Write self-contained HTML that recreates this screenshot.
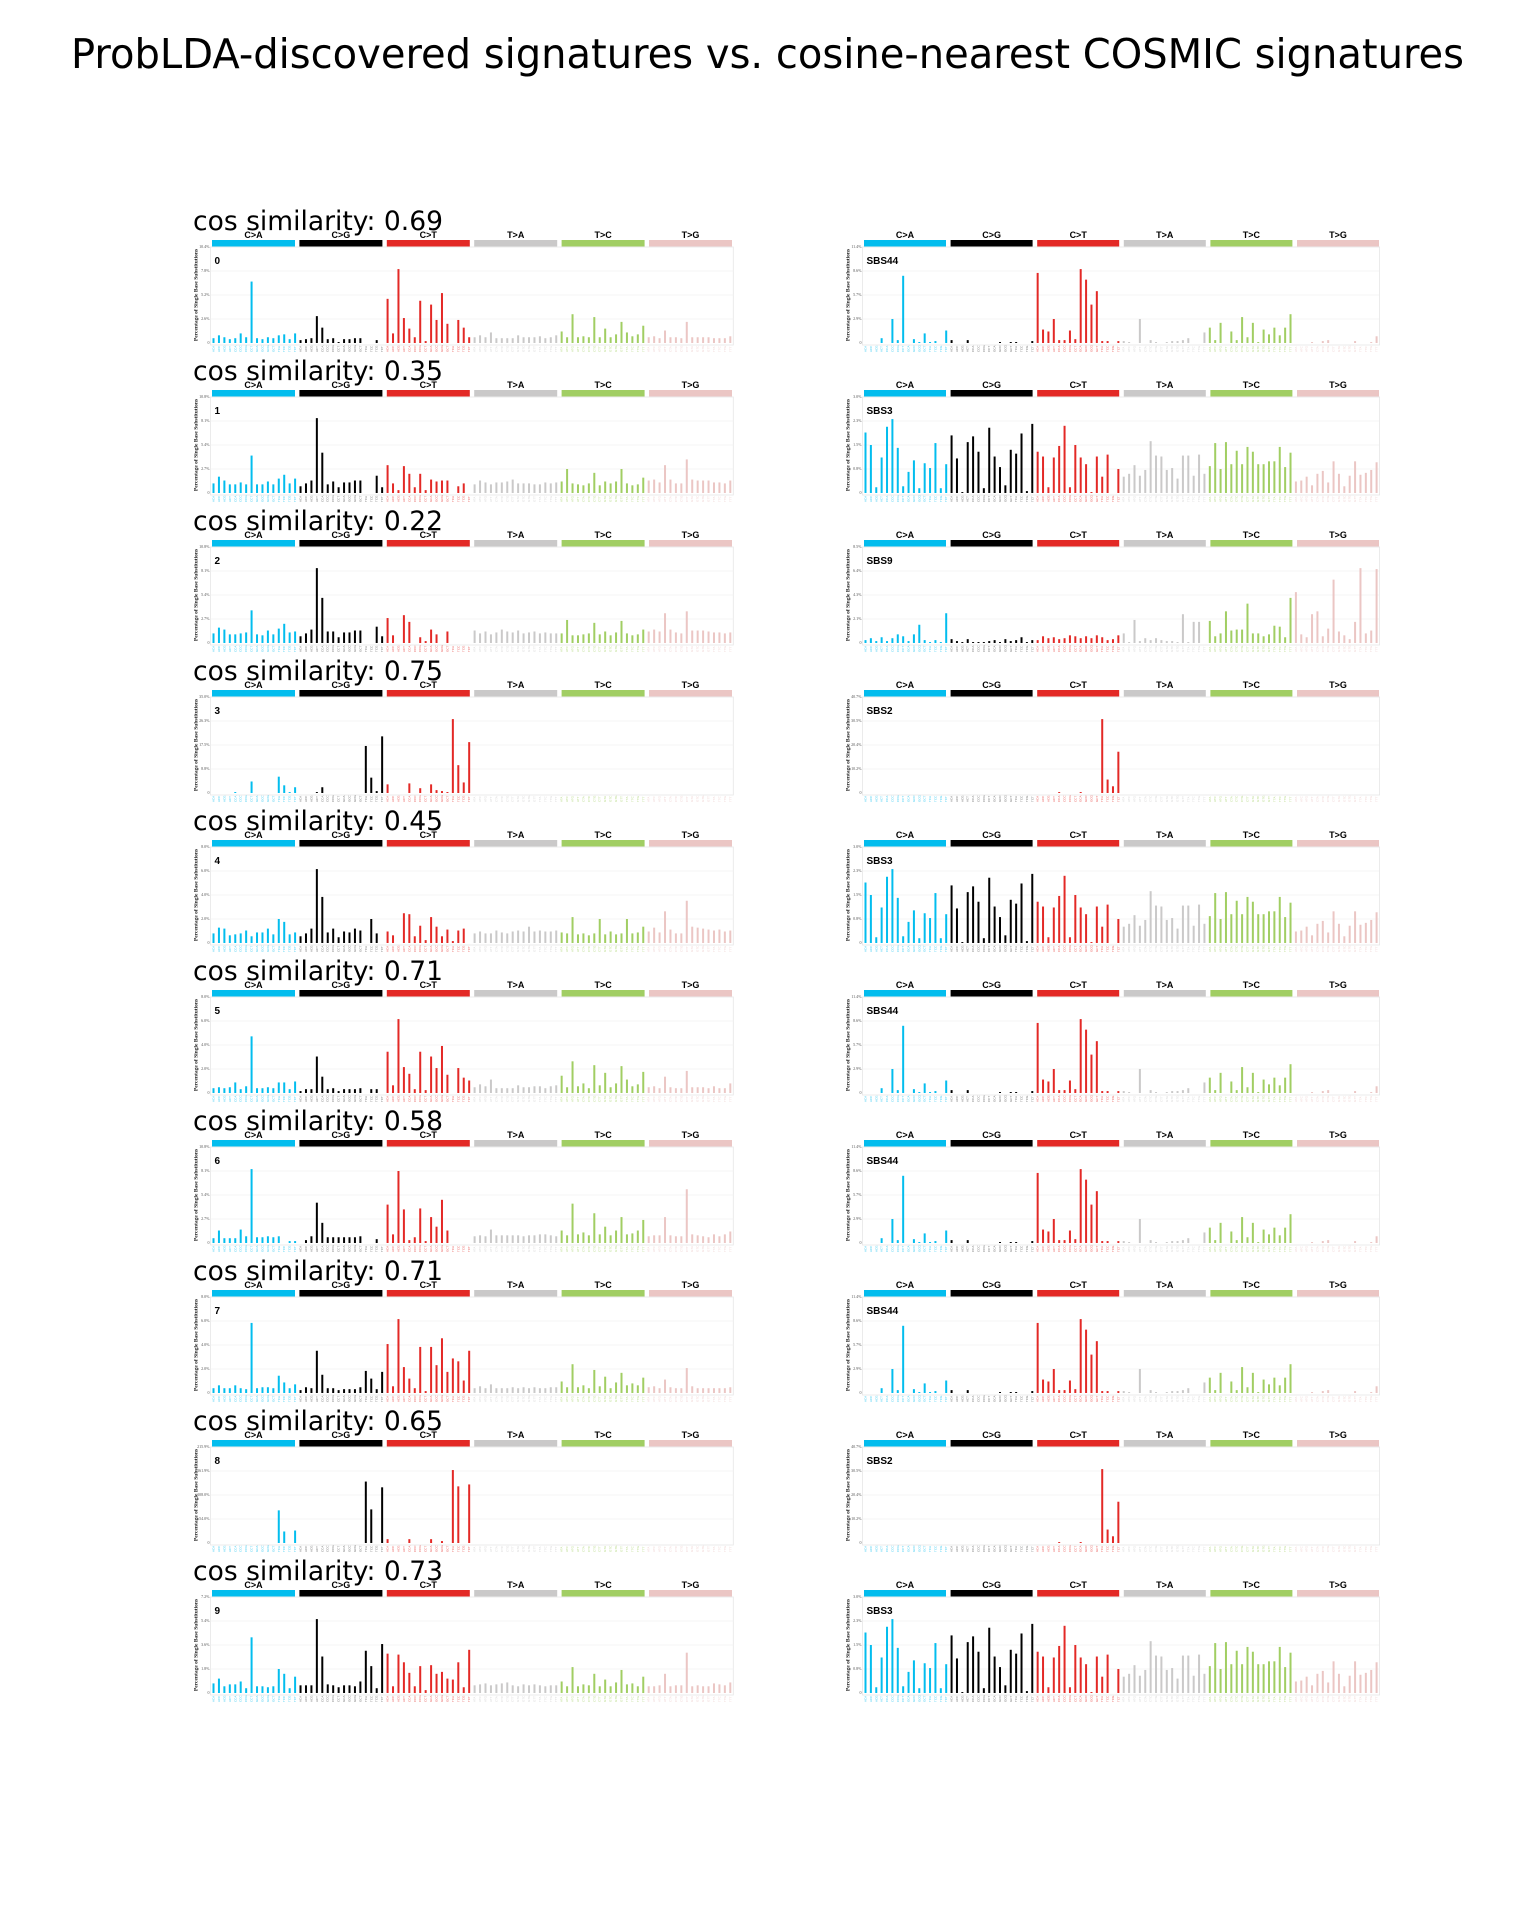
<!DOCTYPE html>
<html><head><meta charset="utf-8"><title>ProbLDA signatures</title>
<style>
html,body{margin:0;padding:0;background:#fff;}
svg{display:block;}
</style></head>
<body>
<svg id="chart" width="1536" height="1920" viewBox="0 0 1536 1920" xmlns="http://www.w3.org/2000/svg">
<text x="71" y="68" font-family="DejaVu Sans, sans-serif" font-size="41" textLength="1393" lengthAdjust="spacingAndGlyphs" fill="#000">ProbLDA-discovered signatures vs. cosine-nearest COSMIC signatures</text>
</svg>
<script>
// ---- data (values are percent of each panel's axis maximum) ----
const categories = ['C>A','C>G','C>T','T>A','T>C','T>G'];
const catColors = ['#03bdee','#000000','#e32926','#cac9c9','#a1ce63','#ebc6c4'];
const bases = ['A','C','G','T'];
const cosSims = ['0.69','0.35','0.22','0.75','0.45','0.71','0.58','0.71','0.65','0.73'];
const leftIds = ['0','1','2','3','4','5','6','7','8','9'];
const rightIds = ['SBS44','SBS3','SBS9','SBS2','SBS3','SBS44','SBS44','SBS44','SBS2','SBS3'];
const leftMax = [10.4, 10.8, 10.8, 35.0, 8.0, 8.0, 10.8, 8.0, 215.9, 7.2];
const sigMaxNames = ['SBS44','SBS3','SBS9','SBS2'];
const sigMaxValues = [11.4, 3.0, 8.5, 40.7];

const p0 = [5,8,6,4,5,10,6,64,5,4,6,5,8,9,4,10, 3,4,5,28,16,4,5,1,4,4,5,5,0,0,3,0, 46,10,77,26,15,6,44,2,40,24,52,20,0,24,16,6, 6,8,6,11,5,5,5,5,8,6,6,6,7,5,6,8, 12,6,30,6,7,6,27,6,15,6,9,22,11,7,9,18, 6,7,5,13,6,6,5,22,6,6,6,6,5,5,5,7];
const p1 = [10,17,13,9,9,11,9,39,9,9,12,9,15,19,10,15, 7,10,13,78,42,9,12,6,11,11,13,13,0,0,18,6, 29,10,3,28,20,6,20,3,14,12,13,13,0,7,10,0, 9,13,11,9,11,11,12,14,10,10,10,9,9,11,10,11, 12,25,10,9,8,10,21,8,12,10,12,25,10,8,9,16, 13,14,11,29,14,10,10,35,14,13,13,13,11,11,10,13];
const p2 = [10,16,14,9,9,10,11,34,9,8,13,9,15,20,11,12, 7,10,14,78,47,12,12,6,11,11,13,13,0,0,17,7, 26,8,0,29,22,0,6,2,14,9,0,12,0,0,0,0, 13,10,12,9,11,14,12,11,13,10,11,12,10,11,10,10, 10,24,8,8,9,10,21,9,12,8,11,23,10,8,9,14, 12,14,12,31,14,11,10,33,13,13,13,12,11,11,10,11];
const p3 = [0,0,0,0,1,0,0,12,0,0,0,0,17,8,1,6, 0,0,0,1,6,0,0,0,0,0,0,0,49,16,2,59, 9,0,0,0,10,0,5,0,9,3,2,1,77,29,11,53, 0,0,0,0,0,0,0,0,0,0,0,0,0,0,0,0, 0,0,0,0,0,0,0,0,0,0,0,0,0,0,0,0, 0,0,0,0,0,0,0,0,0,0,0,0,0,0,0,0];
const p4 = [10,16,15,8,9,10,13,7,11,11,15,9,25,22,9,11, 7,10,15,77,48,11,15,6,12,11,15,13,0,25,10,0, 12,8,0,31,30,7,18,3,27,17,7,14,2,13,15,0, 10,12,10,10,13,11,10,12,13,12,17,12,13,12,12,13, 11,10,27,9,10,8,10,25,9,12,9,10,25,10,11,17, 12,16,11,33,14,10,10,44,17,16,15,14,13,14,12,13];
const p5 = [5,6,5,6,11,4,7,59,5,5,6,5,11,11,4,12, 2,4,4,38,17,4,5,2,4,4,4,5,0,4,4,0, 43,8,77,27,20,4,43,3,38,26,49,19,0,26,16,13, 6,9,7,14,5,5,5,5,8,6,6,7,7,5,7,8, 18,6,33,7,10,5,29,8,21,6,10,28,14,7,9,22, 6,7,5,17,6,5,5,23,6,6,6,5,7,5,5,10];
const p6 = [5,13,5,5,5,14,7,77,6,6,7,6,7,0,2,2, 0,3,7,42,21,6,6,6,6,6,6,7,0,0,4,0, 40,9,75,35,3,6,36,2,27,17,45,13,0,0,0,0, 7,8,7,14,8,8,8,8,8,7,8,8,9,9,8,7, 13,8,41,9,11,8,31,9,17,8,13,27,9,10,13,24, 7,8,8,27,8,7,7,56,9,8,7,6,9,7,9,12];
const p7 = [5,8,5,5,8,5,4,73,5,6,6,5,18,11,5,9, 3,6,5,44,19,5,5,3,4,4,4,6,23,15,4,22, 51,7,77,27,15,5,48,2,48,29,57,22,36,33,13,44, 5,7,5,9,5,5,5,6,5,6,5,6,5,5,6,6, 12,6,30,6,8,5,24,7,17,5,11,21,8,10,8,16, 6,7,5,14,6,5,5,26,7,5,5,5,5,5,5,6];
const p8 = [0,0,0,0,0,0,0,0,0,0,0,0,34,12,0,13, 0,0,0,0,0,0,0,0,0,0,0,0,64,35,0,58, 4,0,0,0,4,0,0,0,4,0,2,0,76,59,0,61, 0,0,0,0,0,0,0,0,0,0,0,0,0,0,0,0, 0,0,0,0,0,0,0,0,0,0,0,0,0,0,0,0, 0,0,0,0,0,0,0,0,0,0,0,0,0,0,0,0];
const p9 = [10,15,7,9,9,12,5,58,7,7,6,7,25,20,5,17, 8,8,8,77,38,9,8,6,8,8,7,12,44,28,5,51, 41,7,40,32,21,7,28,3,29,20,22,15,14,32,6,45, 8,9,10,8,9,10,11,8,7,9,8,9,8,7,8,8, 12,7,27,7,9,8,20,7,14,7,11,24,9,10,7,17, 7,7,8,20,7,8,8,42,7,8,7,7,10,9,8,11];
const sbs44 = [0,0,0,5,0,25,3,70,0,4,1,10,1,2,0,13, 3,0,0,3,0,0,0,0,0,1,0,1,1,0,0,2, 73,14,12,25,3,3,13,4,77,66,40,54,2,2,0,2, 2,1,0,25,0,3,1,0,1,2,2,3,5,0,0,11, 16,3,21,0,12,3,27,6,21,1,14,9,16,8,16,30, 0,0,0,1,0,2,3,0,0,0,0,2,0,0,1,7];
const sbs3 = [63,50,6,37,69,77,47,7,22,34,5,31,26,52,5,30, 60,36,1,53,59,43,5,68,38,27,8,45,41,62,2,72, 43,38,6,37,49,70,6,50,37,30,1,38,17,40,0,25, 17,20,29,18,24,54,39,38,24,26,15,39,39,18,40,20, 28,52,25,53,30,44,30,48,43,30,30,33,33,48,27,42, 12,13,17,8,20,23,11,33,20,7,18,33,19,21,24,32];
const sbs9 = [3,5,2,6,2,5,9,7,2,9,19,3,1,3,1,31, 4,2,1,4,1,1,1,2,3,1,4,2,3,6,1,3, 3,7,5,6,4,5,8,7,5,7,5,8,6,3,4,8, 10,1,24,2,5,3,5,3,2,2,1,30,1,22,22,0, 23,7,10,33,13,14,14,41,10,10,7,9,18,17,6,47, 53,9,6,30,33,7,15,66,12,8,4,22,78,10,13,77];
const sbs2 = [0,0,0,0,0,0,0,0,0,0,0,0,0,0,0,0, 0,0,0,0,0,0,0,0,0,0,0,0,0,0,0,0, 0,0,0,0,1,0,0,0,1,0,0,0,77,14,7,43, 0,0,0,0,0,0,0,0,0,0,0,0,0,0,0,0, 0,0,0,0,0,0,0,0,0,0,0,0,0,0,0,0, 0,0,0,0,0,0,0,0,0,0,0,0,0,0,0,0];

const leftSeries = [p0,p1,p2,p3,p4,p5,p6,p7,p8,p9];
const sigSeries = {SBS44: sbs44, SBS3: sbs3, SBS9: sbs9, SBS2: sbs2};

// ---- drawing ----
const NS = 'http://www.w3.org/2000/svg';
const svg = document.getElementById('chart');
function mk(tag, attrs, parent){
  const e = document.createElementNS(NS, tag);
  for (const k in attrs) e.setAttribute(k, attrs[k]);
  (parent||svg).appendChild(e);
  return e;
}
const ROW_PITCH = 150;
const PLOT_TOP = 247, PLOT_H = 96;

function fmt(v){ return v===0 ? '0' : v.toFixed(1)+'%'; }

function drawPanel(g, x0, pitch, segPitch, segW, yOff, values, yMax, label, nameBase){
  const top = PLOT_TOP + yOff, base = top + PLOT_H;
  const yScale = v => base - (v/100) * PLOT_H;
  const xScale = i => x0 + pitch * i;
  categories.forEach((c, k) => {
    const sx = x0 - 1.5 + segPitch * k;
    const r = mk('rect', {x: sx, y: top - 7, width: segW, height: 6.5, fill: catColors[k]}, g);
    
    
    const t = mk('text', {x: sx + segW/2, y: top - 9, 'text-anchor': 'middle', 'font-family': 'Liberation Sans, sans-serif', 'font-weight': 'bold', 'font-size': '9', fill: '#000'}, g);
    t.textContent = c;
    
    
  });
  const fr = mk('rect', {x: x0 - 3, y: top, width: pitch*95 + 6, height: PLOT_H + 2, fill: 'none', stroke: '#e6e6e6', 'stroke-width': 0.8}, g);
  
  
  for (let k = 0; k <= 4; k++){
    const y = base - PLOT_H * k / 4;
    if (k > 0 && k < 4){
      const gl = mk('line', {x1: x0 - 3, x2: x0 + pitch*95 + 3, y1: y, y2: y, stroke: '#f1f1f1', 'stroke-width': 0.8}, g);
      
      
    }
    const tl = mk('text', {x: x0 - 4, y: y + 1, 'text-anchor': 'end', 'font-family': 'Liberation Serif, serif', 'font-size': '4', fill: '#555'}, g);
    tl.textContent = fmt(yMax * k / 4);
    
    
  }
  const yt = mk('text', {transform: 'translate(' + (x0 - 16) + ',' + (top + PLOT_H/2) + ') rotate(-90)', 'text-anchor': 'middle', 'font-family': 'Liberation Serif, serif', 'font-weight': 'bold', 'font-size': '5.5', fill: '#222'}, g);
  yt.textContent = 'Percentage of Single Base Substitutions';
  
  
  const pl = mk('text', {x: x0 + 1, y: top + 17, 'font-family': 'Liberation Sans, sans-serif', 'font-weight': 'bold', 'font-size': '10', fill: '#000'}, g);
  pl.textContent = label;
  
  
  values.forEach((v, i) => {
    const k = Math.floor(i / 16), j = i % 16;
    const x = xScale(i);
    const y = yScale(v);
    const b = mk('rect', {x: x - 1, y: y, width: 2, height: Math.max(0, base - y), fill: catColors[k]}, g);
    
    
    const ctx = bases[Math.floor(j/4)] + categories[k][0] + bases[j%4];
    const xl = mk('text', {transform: 'translate(' + (x + 1) + ',' + (base + 9) + ') rotate(-90)', 'font-family': 'Liberation Sans, sans-serif', 'font-size': '3', fill: catColors[k], 'fill-opacity': k===1 ? 0.6 : 0.8}, g);
    xl.textContent = ctx;
    
    
  });
}

for (let r = 0; r < 10; r++){
  const yOff = ROW_PITCH * r;
  const row = mk('g', {});
  
  
  const cs = mk('text', {x: 193, y: 230 + yOff, 'font-family': 'DejaVu Sans, sans-serif', 'font-size': '27', textLength: 250, lengthAdjust: 'spacingAndGlyphs', fill: '#000'}, row);
  cs.textContent = 'cos similarity: ' + cosSims[r];
  
  
  const gl = mk('g', {}, row);
  
  
  drawPanel(gl, 213.5, 5.44, 87.4, 83, yOff, leftSeries[r], leftMax[r], leftIds[r], 'probLDA');
  const gr = mk('g', {}, row);
  
  
  const sid = rightIds[r];
  drawPanel(gr, 865.5, 5.38, 86.6, 82, yOff, sigSeries[sid], sigMaxValues[sigMaxNames.indexOf(sid)], sid, 'cosmic');
}
</script>
</body></html>
